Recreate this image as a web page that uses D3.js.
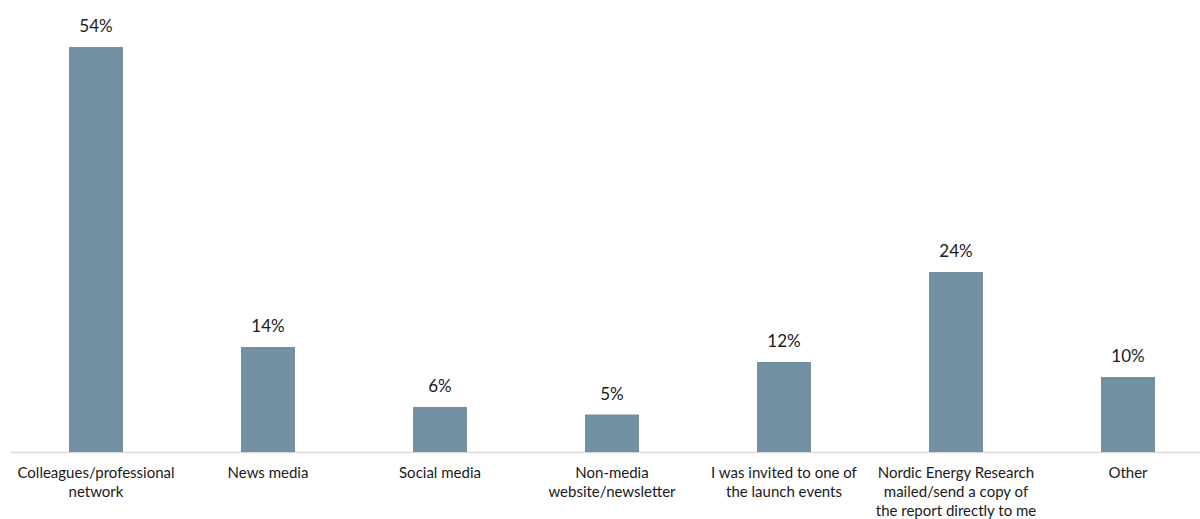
<!DOCTYPE html>
<html>
<head>
<meta charset="utf-8">
<script src="https://cdn.jsdelivr.net/npm/d3@7"></script>
<style>
  html, body { margin: 0; padding: 0; background: #fff; }
  svg { display: block; font-family: Lato, "Open Sans", sans-serif; }
</style>
</head>
<body>
<svg id="chart" width="1200" height="519"></svg>
<script>
// Survey: where respondents heard about the report
const categories = [
  ["Colleagues/professional", "network"],
  ["News media"],
  ["Social media"],
  ["Non-media", "website/newsletter"],
  ["I was invited to one of", "the launch events"],
  ["Nordic Energy Research", "mailed/send a copy of", "the report directly to me"],
  ["Other"]
];
const values = [54, 14, 6, 5, 12, 24, 10];

const svg = d3.select("#chart");
const baseY = 452;

const x = d3.scaleBand()
  .domain(d3.range(categories.length))
  .range([10, 1214])
  .paddingInner(0.686)
  .paddingOuter(0.343);

const y = d3.scaleLinear()
  .domain([0, 54])
  .range([baseY, 47]);

// baseline
svg.append("line")
  .attr("x1", 11).attr("x2", 1200)
  .attr("y1", baseY + 0.5).attr("y2", baseY + 0.5)
  .attr("stroke", "#d9d9d9")
  .attr("stroke-width", 1.5);

// bars
svg.selectAll("rect.bar")
  .data(values)
  .join("rect")
  .attr("class", "bar")
  .attr("x", (d, i) => x(i))
  .attr("width", x.bandwidth())
  .attr("y", d => y(d))
  .attr("height", d => y(0) - y(d))
  .attr("fill", "#7491a3");

// value labels
svg.selectAll("text.val")
  .data(values)
  .join("text")
  .attr("class", "val")
  .attr("x", (d, i) => x(i) + x.bandwidth() / 2)
  .attr("y", d => y(d) - 15)
  .attr("text-anchor", "middle")
  .attr("font-size", 17)
  .attr("fill", "#1a1a1a")
  .text(d => d + "%");

// category labels
const cat = svg.selectAll("text.cat")
  .data(categories)
  .join("text")
  .attr("class", "cat")
  .attr("text-anchor", "middle")
  .attr("font-size", 15)
  .attr("fill", "#1a1a1a");

cat.selectAll("tspan")
  .data((d, i) => d.map(line => ({ line, i })))
  .join("tspan")
  .attr("x", d => x(d.i) + x.bandwidth() / 2)
  .attr("y", (d, j) => 478 + j * 19)
  .text(d => d.line);
</script>
</body>
</html>
